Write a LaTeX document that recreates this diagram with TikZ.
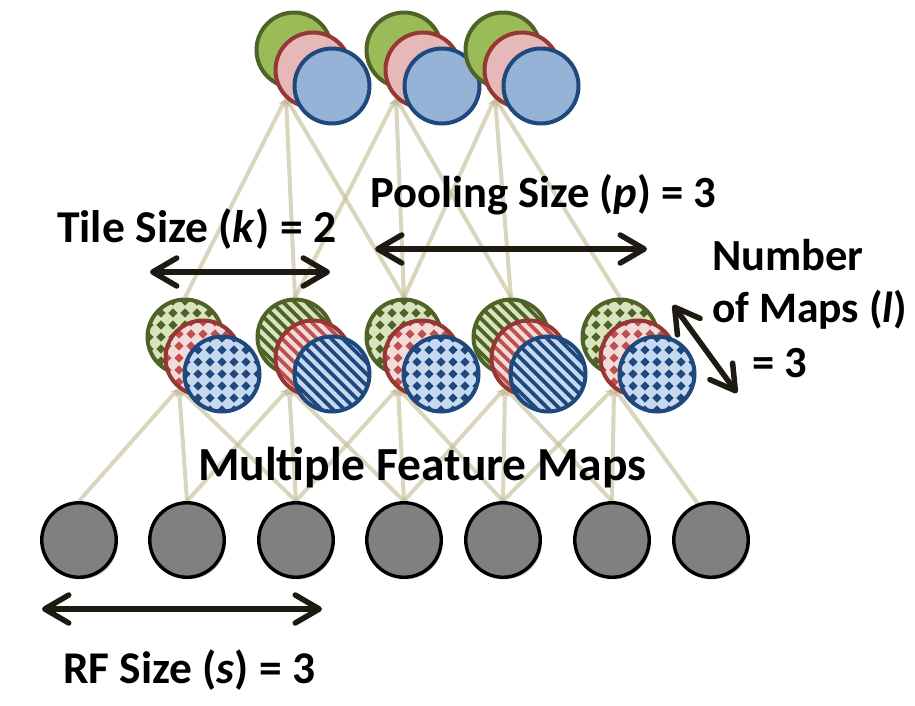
\documentclass[tikz,border=0pt]{standalone}
\usepackage{fontspec}
\setmainfont{Carlito}
\usetikzlibrary{arrows.meta,backgrounds,calc,shadows}
\definecolor{gOut}{HTML}{4F6228}
\definecolor{gTop}{HTML}{9BBB59}
\definecolor{gLight}{HTML}{D7E4BD}
\definecolor{rOut}{HTML}{953735}
\definecolor{rTop}{HTML}{E6B9B8}
\definecolor{rLight}{HTML}{F2DCDB}
\definecolor{rPat}{HTML}{C0504D}
\definecolor{bOut}{HTML}{1F497D}
\definecolor{bTop}{HTML}{95B3D7}
\definecolor{bLight}{HTML}{C6D9F1}
\definecolor{connC}{HTML}{C4BD97}
\definecolor{arrowDark}{HTML}{1D1B11}
\definecolor{shadowC}{HTML}{8C9AB0}
\tikzset{
  unit/.style={circle, minimum size=75, inner sep=0pt, line width=4pt},
  botunit/.style={circle, minimum size=74.5, inner sep=0pt, line width=3.4pt, draw=black, fill=black!50,
     drop shadow={shadow xshift=1.6pt, shadow yshift=-2pt, fill=shadowC, opacity=0.7}},
  chk/.style={path picture={
     \foreach \i in {-4,...,4}{\foreach \j in {-4,...,4}{
        \fill[#1,shift={(path picture bounding box.center)}] (\i*12,\j*12-4.6) -- ++(4.6,4.6) -- ++(-4.6,4.6) -- ++(-4.6,-4.6) -- cycle;}}}},
  stripe/.style={path picture={
     \foreach \k in {-10,...,10}{
        \draw[#1,line width=3.8pt,shift={(path picture bounding box.center)}] (\k*11.5-50,-50) -- (\k*11.5+50,50);}}},
  tG/.style={unit, draw=gOut, fill=gTop},
  tR/.style={unit, draw=rOut, fill=rTop},
  tB/.style={unit, draw=bOut, fill=bTop},
  mG/.style={unit, draw=gOut, fill=gLight},
  mR/.style={unit, draw=rOut, fill=rLight},
  mB/.style={unit, draw=bOut, fill=bLight},
  conn/.style={draw=connC, draw opacity=0.62, line width=4pt, -{Stealth[length=9pt,width=8pt]}},
  dim/.style={draw=arrowDark, line width=5.5pt, line cap=round,
     {Straight Barb[length=24pt,width=28pt,line cap=round,line join=round]}-{Straight Barb[length=24pt,width=28pt,line cap=round,line join=round]}},
  lbl/.style={font=\bfseries\fontsize{#1}{52}\selectfont, inner sep=0pt, anchor=base west, text=black},
  lbl/.default=45
}
\begin{document}
\begin{tikzpicture}[x=1pt,y=-1pt]
\useasboundingbox (0,0) rectangle (915,705);
% bottom layer
\node[botunit] (b1) at (79,540) {};
\node[botunit] (b2) at (187,540) {};
\node[botunit] (b3) at (296,540) {};
\node[botunit] (b4) at (404,540) {};
\node[botunit] (b5) at (503,540) {};
\node[botunit] (b6) at (612,540) {};
\node[botunit] (b7) at (711,540) {};
% middle layer
\node[mG,chk=gOut] (mg1) at (185,337) {};
\node[mR,chk=rPat] (mr1) at (203,358) {};
\node[mB,chk=bOut] (mb1) at (222,374) {};
\node[mG,stripe=gOut] (mg2) at (295,337) {};
\node[mR,stripe=rPat] (mr2) at (313,358) {};
\node[mB,stripe=bOut] (mb2) at (332,374) {};
\node[mG,chk=gOut] (mg3) at (404,337) {};
\node[mR,chk=rPat] (mr3) at (422,358) {};
\node[mB,chk=bOut] (mb3) at (441,374) {};
\node[mG,stripe=gOut] (mg4) at (511,337) {};
\node[mR,stripe=rPat] (mr4) at (529,358) {};
\node[mB,stripe=bOut] (mb4) at (548,374) {};
\node[mG,chk=gOut] (mg5) at (620,337) {};
\node[mR,chk=rPat] (mr5) at (638,358) {};
\node[mB,chk=bOut] (mb5) at (657,374) {};
% top layer
\node[tG] (tg1) at (294,50) {};
\node[tR] (tr1) at (313,70) {};
\node[tB] (tb1) at (332,86) {};
\node[tG] (tg2) at (404,50) {};
\node[tR] (tr2) at (423,70) {};
\node[tB] (tb2) at (442,86) {};
\node[tG] (tg3) at (503,50) {};
\node[tR] (tr3) at (522,70) {};
\node[tB] (tb3) at (541,86) {};
% apex coordinates
\foreach \j in {1,...,5}{\coordinate (ma\j) at ($(mg\j)+(-6,51)$);}
\foreach \j in {1,...,3}{\coordinate (ta\j) at ($(tg\j)+(-8,48)$);}
% connectors behind
\begin{scope}[on background layer]
\fill[white] (0,0) rectangle (915,705);
\foreach \j in {1,...,4}{
  \foreach \d in {0,1,2}{
    \pgfmathtruncatemacro\i{\j+\d}
    \draw[conn] (b\i.north) -- (ma\j);
  }
}
\draw[conn] (b5.north) -- (ma5);
\draw[conn] (b6.north) -- (ma5);
\draw[conn] (b7.110) -- (ma5);
\foreach \j in {1,...,3}{
  \foreach \d in {0,1,2}{
    \pgfmathtruncatemacro\i{\j+\d}
    \draw[conn] (mg\i.north) -- (ta\j);
  }
}
\end{scope}
% dimension arrows
\coordinate (rfL) at (42,609); \coordinate (rfR) at (322,609);
\coordinate (tileL) at (150,272); \coordinate (tileR) at (330,272);
\coordinate (poolL) at (375,249); \coordinate (poolR) at (647,249);
\coordinate (mapA) at (673,305); \coordinate (mapB) at (737,393);
\draw[dim] (rfL) -- (rfR);
\draw[dim] (tileL) -- (tileR);
\draw[dim] (poolL) -- (poolR);
\draw[dim] (mapA) -- (mapB);
% labels
\node[lbl=44.6] (pool) at (370,207) {Pooling Size (\textit{p}) = 3};
\node[lbl=45.6] (tile) at (57,242) {Tile Size (\textit{k}) = 2};
\node[lbl=47.5] (mfm) at (198,480) {Multiple Feature Maps};
\node[lbl=45.4] (rf) at (63,683) {RF Size (\textit{s}) = 3};
\node[lbl=44.5] (nm1) at (712,270) {Number};
\node[lbl=43.5] (nm2) at (712,322) {of Maps (\textit{l})};
\node[lbl=44.5] (nm3) at (752,377) {= 3};
\end{tikzpicture}
\end{document}
